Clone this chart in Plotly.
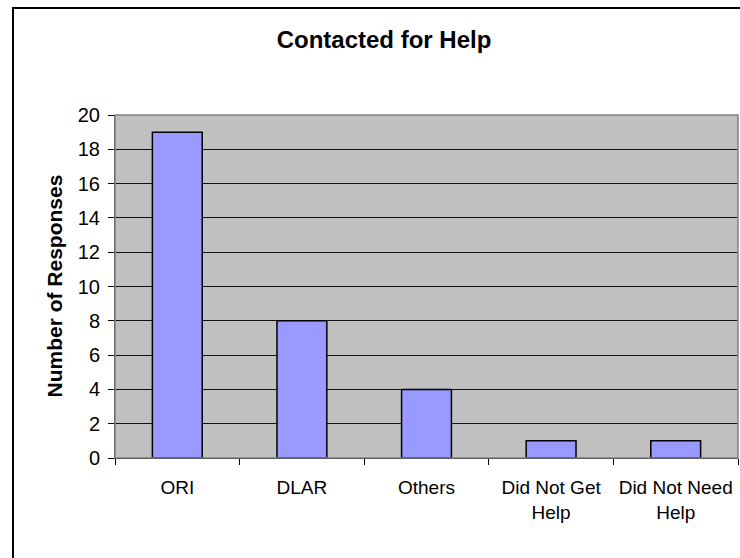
import plotly.graph_objects as go

# Survey responses: who respondents contacted for help
categories = ["ORI", "DLAR", "Others", "Did Not Get Help", "Did Not Need Help"]
tick_labels = ["ORI", "DLAR", "Others", "Did Not Get<br>Help", "Did Not Need<br>Help"]
responses = [19, 8, 4, 1, 1]
y_ticks = list(range(0, 21, 2))

FONT = "Liberation Sans, Arial, sans-serif"

fig = go.Figure(
    go.Bar(
        x=categories,
        y=responses,
        width=0.4,
        marker=dict(color="#9999FF", line=dict(color="#000000", width=1.5)),
        hoverinfo="x+y",
    )
)

fig.update_layout(
    width=740,
    height=558,
    margin=dict(l=115, r=2, t=115, b=100, autoexpand=False),
    paper_bgcolor="white",
    plot_bgcolor="#C0C0C0",
    showlegend=False,
    title=dict(
        text="<b>Contacted for Help</b>",
        x=384 / 740,
        xref="container",
        xanchor="center",
        y=1 - 40 / 558,
        yref="container",
        yanchor="middle",
        font=dict(family=FONT, size=24, color="black"),
    ),
    font=dict(family=FONT, color="black"),
)

fig.update_xaxes(
    tickmode="array",
    tickvals=categories,
    ticktext=tick_labels,
    tickson="boundaries",
    tickangle=0,
    automargin=False,
    ticks="outside",
    ticklen=6,
    tickcolor="black",
    tickfont=dict(size=19, family=FONT, color="black"),
    showline=True,
    linecolor="black",
    linewidth=1,
    showgrid=False,
    ticklabelstandoff=12,
)

fig.update_yaxes(
    range=[0, 20],
    tickmode="array",
    tickvals=y_ticks,
    automargin=False,
    ticks="outside",
    ticklen=6,
    tickcolor="black",
    tickfont=dict(size=20, family=FONT, color="black"),
    showline=True,
    linecolor="#404040",
    linewidth=1,
    showgrid=True,
    gridcolor="#111111",
    gridwidth=1,
    zeroline=False,
    ticklabelstandoff=4,
)

# Grey plot-area frame on the top and right
fig.add_shape(type="rect", xref="paper", yref="paper", x0=0, y0=0, x1=1, y1=1,
              line=dict(color="#808080", width=1.5), fillcolor="rgba(0,0,0,0)", layer="above")

# Outer chart border
fig.add_shape(type="rect", xref="paper", yref="paper",
              x0=(13 - 115) / 623, x1=1.5, y0=-0.8, y1=(458 - 8) / 343,
              line=dict(color="black", width=2), fillcolor="rgba(0,0,0,0)")

fig.add_annotation(
    text="<b>Number of Responses</b>",
    xref="paper", yref="paper",
    x=(54 - 115) / 623, y=0.5,
    xanchor="center", yanchor="middle",
    textangle=-90, showarrow=False,
    font=dict(family=FONT, size=21, color="black"),
)

fig.write_html("out.html")
